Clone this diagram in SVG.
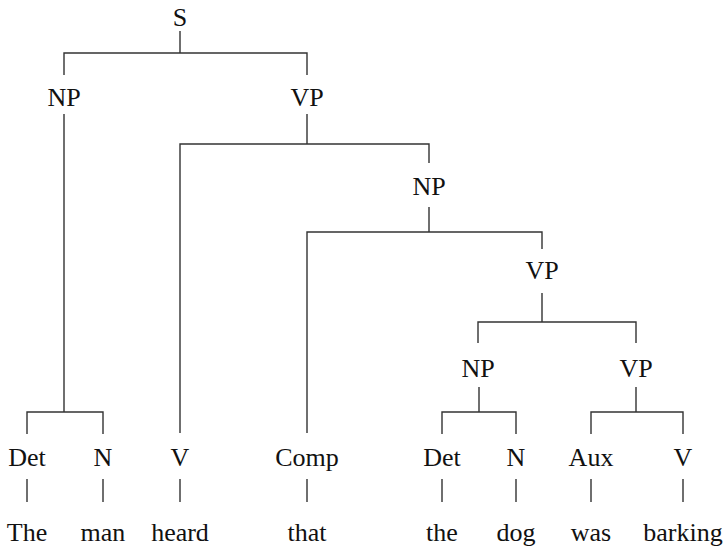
<svg xmlns="http://www.w3.org/2000/svg" width="727" height="549" viewBox="0 0 727 549">
<style>
.lbl{font-family:"Liberation Serif","Times New Roman",serif;font-size:26px;fill:#111;text-anchor:middle}
.edge{fill:none;stroke:#333;stroke-width:1.4}
</style>
<rect width="727" height="549" fill="#fff"/>
<g id="connectors">
<path class="edge" d="M180 31V53M64 75V53H307V75"/>
<path class="edge" d="M64 114V412M27 434V412H103V434"/>
<path class="edge" d="M307 114V144M180 433V144H429V163"/>
<path class="edge" d="M429 207V232M307 433V232H542V249"/>
<path class="edge" d="M542 293V322M478 343V322H636V343"/>
<path class="edge" d="M479 387V412M442 434V412H516V434"/>
<path class="edge" d="M636 387V412M591 434V412H683V434"/>
<path class="edge" d="M27 479V502M103 479V502M180 479V502M307 479V502M442 479V502M516 479V502M591 479V502M683 479V502"/>
</g>
<g id="n-S"><text class="lbl" font-family="Liberation Serif" x="180" y="26">S</text></g>
<g id="n-NP1"><text class="lbl" font-family="Liberation Serif" x="64" y="106">NP</text></g>
<g id="n-VP1"><text class="lbl" font-family="Liberation Serif" x="307" y="106">VP</text></g>
<g id="n-NP2"><text class="lbl" font-family="Liberation Serif" x="429" y="195">NP</text></g>
<g id="n-VP2"><text class="lbl" font-family="Liberation Serif" x="542" y="279">VP</text></g>
<g id="n-NP3"><text class="lbl" font-family="Liberation Serif" x="478" y="377">NP</text></g>
<g id="n-VP3"><text class="lbl" font-family="Liberation Serif" x="636" y="377">VP</text></g>
<g id="n-Det1"><text class="lbl" font-family="Liberation Serif" x="27" y="466">Det</text></g>
<g id="n-N1"><text class="lbl" font-family="Liberation Serif" x="103" y="466">N</text></g>
<g id="n-V1"><text class="lbl" font-family="Liberation Serif" x="180" y="466">V</text></g>
<g id="n-Comp"><text class="lbl" font-family="Liberation Serif" x="307" y="466">Comp</text></g>
<g id="n-Det2"><text class="lbl" font-family="Liberation Serif" x="442" y="466">Det</text></g>
<g id="n-N2"><text class="lbl" font-family="Liberation Serif" x="516" y="466">N</text></g>
<g id="n-Aux"><text class="lbl" font-family="Liberation Serif" x="591" y="466">Aux</text></g>
<g id="n-V2"><text class="lbl" font-family="Liberation Serif" x="683" y="466">V</text></g>
<g id="w-The"><text class="lbl" font-family="Liberation Serif" x="27" y="541">The</text></g>
<g id="w-man"><text class="lbl" font-family="Liberation Serif" x="103" y="541">man</text></g>
<g id="w-heard"><text class="lbl" font-family="Liberation Serif" x="180" y="541">heard</text></g>
<g id="w-that"><text class="lbl" font-family="Liberation Serif" x="307" y="541">that</text></g>
<g id="w-the"><text class="lbl" font-family="Liberation Serif" x="442" y="541">the</text></g>
<g id="w-dog"><text class="lbl" font-family="Liberation Serif" x="516" y="541">dog</text></g>
<g id="w-was"><text class="lbl" font-family="Liberation Serif" x="591" y="541">was</text></g>
<g id="w-barking"><text class="lbl" font-family="Liberation Serif" x="683" y="541">barking</text></g>
</svg>
